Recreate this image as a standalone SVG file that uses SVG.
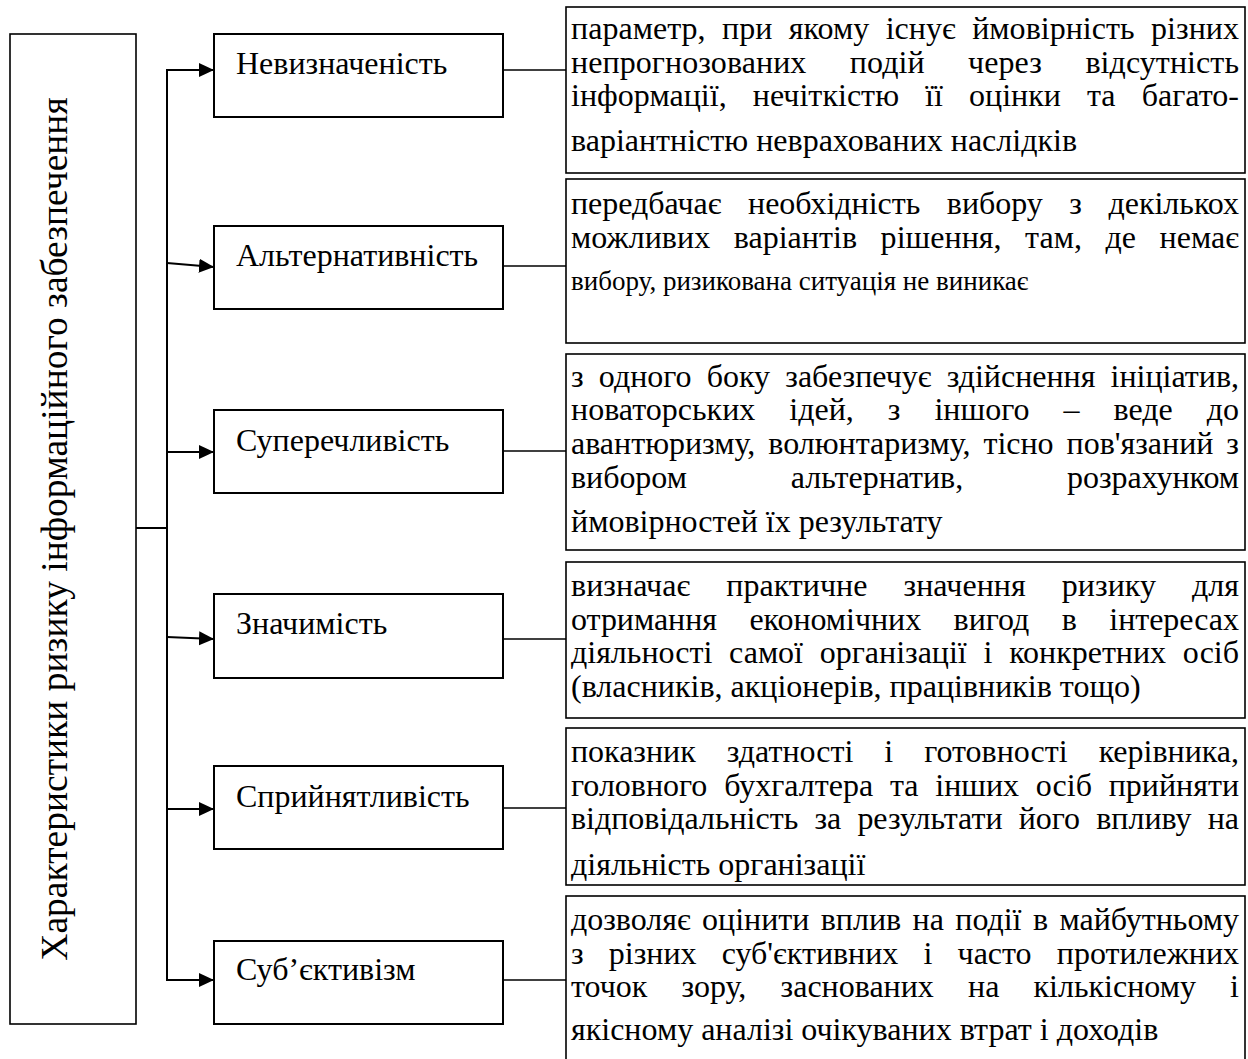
<svg xmlns="http://www.w3.org/2000/svg" width="1248" height="1059" viewBox="0 0 1248 1059">
<style>
.box{fill:#fff;stroke:#000;stroke-width:2}
.tbox{fill:#fff;stroke:#000;stroke-width:1.6}
.lbl{font-family:"Liberation Serif","Times New Roman",serif;font-size:32px;fill:#000}
.txt{font-family:"Liberation Serif","Times New Roman",serif;font-size:32px;fill:#000}
.ttl{font-family:"Liberation Serif","Times New Roman",serif;font-size:37.5px;fill:#000}
.conn{stroke:#000;stroke-width:2;fill:none}
.thin{stroke:#000;stroke-width:1.6;fill:none}
</style>
<defs>
<marker id="ah" markerUnits="userSpaceOnUse" markerWidth="16" markerHeight="16" refX="15" refY="7" orient="auto">
<path d="M0,0 L15,7 L0,14 z" fill="#000"/>
</marker>
</defs>
<g id="connectors">
<line class="conn" x1="136" y1="528" x2="167" y2="528"/>
<polyline class="conn" points="200,70 167,70 167,980 200,980"/>
<line class="conn" x1="167" y1="70" x2="214" y2="70" marker-end="url(#ah)"/>
<line class="conn" x1="167" y1="263" x2="214" y2="267" marker-end="url(#ah)"/>
<line class="conn" x1="167" y1="452" x2="214" y2="452" marker-end="url(#ah)"/>
<line class="conn" x1="167" y1="637" x2="214" y2="639" marker-end="url(#ah)"/>
<line class="conn" x1="167" y1="809" x2="214" y2="809" marker-end="url(#ah)"/>
<line class="conn" x1="167" y1="980" x2="214" y2="980" marker-end="url(#ah)"/>
<line class="thin" x1="503" y1="70" x2="566" y2="70"/>
<line class="thin" x1="503" y1="266" x2="566" y2="266"/>
<line class="thin" x1="503" y1="451" x2="566" y2="451"/>
<line class="thin" x1="503" y1="639" x2="566" y2="639"/>
<line class="thin" x1="503" y1="808" x2="566" y2="808"/>
<line class="thin" x1="503" y1="980" x2="566" y2="980"/>
</g>
<g id="root">
<rect class="box" x="10" y="34" width="126" height="990" style="stroke-width:1.6"/>
<text class="ttl" transform="translate(67,529) rotate(-90)" text-anchor="middle">Характеристики ризику інформаційного забезпечення</text>
</g>
<g id="n1"><rect class="box" x="214" y="34" width="289" height="83"/><text class="lbl" x="236" y="74">Невизначеність</text></g>
<g id="n2"><rect class="box" x="214" y="226" width="289" height="83"/><text class="lbl" x="236" y="266">Альтернативність</text></g>
<g id="n3"><rect class="box" x="214" y="410" width="289" height="83"/><text class="lbl" x="236" y="451">Суперечливість</text></g>
<g id="n4"><rect class="box" x="214" y="594" width="289" height="84"/><text class="lbl" x="236" y="634">Значимість</text></g>
<g id="n5"><rect class="box" x="214" y="766" width="289" height="83"/><text class="lbl" x="236" y="807">Сприйнятливість</text></g>
<g id="n6"><rect class="box" x="214" y="941" width="289" height="83"/><text class="lbl" x="236" y="980">Суб’єктивізм</text></g>
<g id="t1"><rect class="tbox" x="566" y="7" width="679" height="166"/>
<text class="txt" x="571" y="39" word-spacing="8.4" textLength="668" lengthAdjust="spacing">параметр, при якому існує ймовірність різних</text>
<text class="txt" x="571" y="72.7" word-spacing="35.3" textLength="668" lengthAdjust="spacing">непрогнозованих подій через відсутність</text>
<text class="txt" x="571" y="106.4" word-spacing="18" textLength="668" lengthAdjust="spacing">інформації, нечіткістю її оцінки та багато-</text>
<text class="txt" x="571" y="150.5">варіантністю неврахованих наслідків</text>
</g>
<g id="t2"><rect class="tbox" x="566" y="179" width="679" height="164"/>
<text class="txt" x="571" y="214" word-spacing="18.5" textLength="668" lengthAdjust="spacing">передбачає необхідність вибору з декількох</text>
<text class="txt" x="571" y="247.7" word-spacing="15.4" textLength="668" lengthAdjust="spacing">можливих варіантів рішення, там, де немає</text>
<text class="txt" x="571" y="289.5" style="font-size:27px">вибору, ризикована ситуація не виникає</text>
</g>
<g id="t3"><rect class="tbox" x="566" y="354" width="679" height="196"/>
<text class="txt" x="571" y="386.5" word-spacing="7.2" textLength="668" lengthAdjust="spacing">з одного боку забезпечує здійснення ініціатив,</text>
<text class="txt" x="571" y="420.2" word-spacing="26" textLength="668" lengthAdjust="spacing">новаторських ідей, з іншого – веде до</text>
<text class="txt" x="571" y="453.9" word-spacing="5" textLength="668" lengthAdjust="spacing">авантюризму, волюнтаризму, тісно пов'язаний з</text>
<text class="txt" x="571" y="487.6" word-spacing="96" textLength="668" lengthAdjust="spacing">вибором альтернатив, розрахунком</text>
<text class="txt" x="571" y="532">ймовірностей їх результату</text>
</g>
<g id="t4"><rect class="tbox" x="566" y="562" width="679" height="156"/>
<text class="txt" x="571" y="596" word-spacing="28" textLength="668" lengthAdjust="spacing">визначає практичне значення ризику для</text>
<text class="txt" x="571" y="629.7" word-spacing="24.5" textLength="668" lengthAdjust="spacing">отримання економічних вигод в інтересах</text>
<text class="txt" x="571" y="663.4" word-spacing="8.8" textLength="668" lengthAdjust="spacing">діяльності самої організації і конкретних осіб</text>
<text class="txt" x="571" y="697">(власників, акціонерів, працівників тощо)</text>
</g>
<g id="t5"><rect class="tbox" x="566" y="728" width="679" height="157"/>
<text class="txt" x="571" y="762" word-spacing="23" textLength="668" lengthAdjust="spacing">показник здатності і готовності керівника,</text>
<text class="txt" x="571" y="795.7" word-spacing="8.8" textLength="668" lengthAdjust="spacing">головного бухгалтера та інших осіб прийняти</text>
<text class="txt" x="571" y="829.4" word-spacing="8.2" textLength="668" lengthAdjust="spacing">відповідальність за результати його впливу на</text>
<text class="txt" x="571" y="874.5">діяльність організації</text>
</g>
<g id="t6"><rect class="tbox" x="566" y="896" width="679" height="170"/>
<text class="txt" x="571" y="930" word-spacing="3.5" textLength="668" lengthAdjust="spacing">дозволяє оцінити вплив на події в майбутньому</text>
<text class="txt" x="571" y="963.7" word-spacing="17.2" textLength="668" lengthAdjust="spacing">з різних суб'єктивних і часто протилежних</text>
<text class="txt" x="571" y="997.4" word-spacing="26.2" textLength="668" lengthAdjust="spacing">точок зору, заснованих на кількісному і</text>
<text class="txt" x="571" y="1040">якісному аналізі очікуваних втрат і доходів</text>
</g>
</svg>
